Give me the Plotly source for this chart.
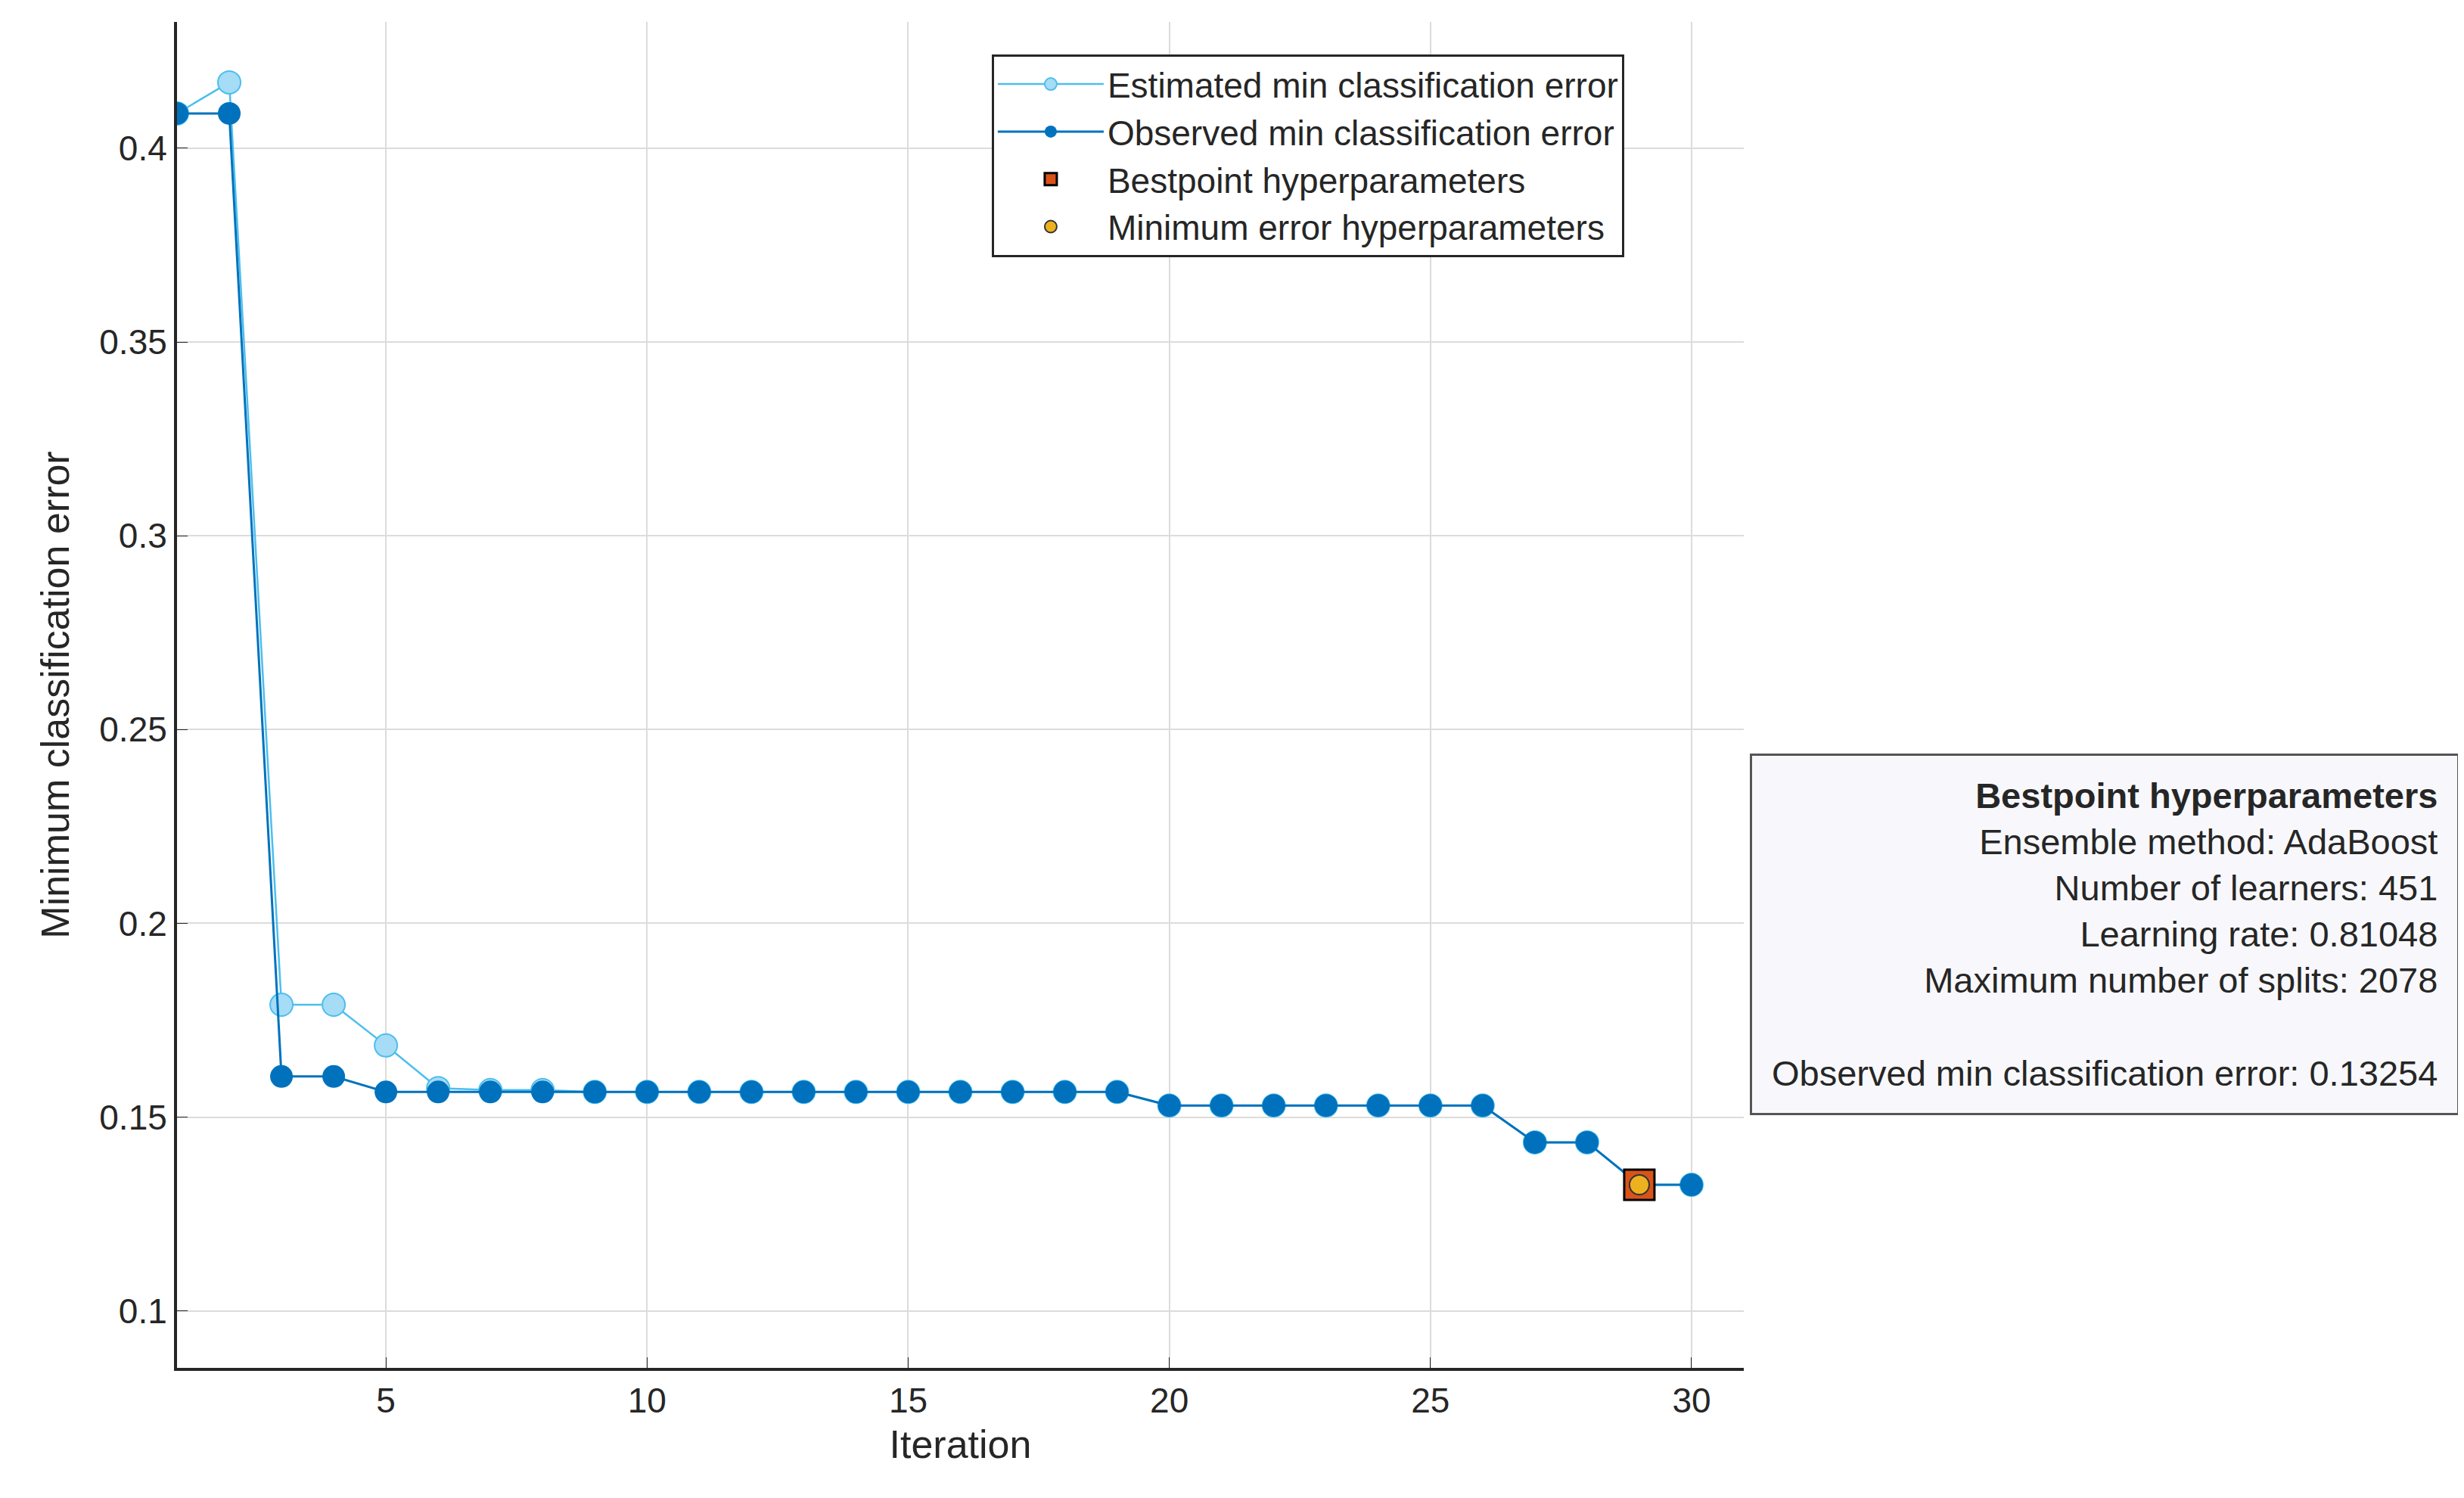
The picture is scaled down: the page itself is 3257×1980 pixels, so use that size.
import plotly.graph_objects as go

iteration = list(range(1, 31))
observed = [0.409, 0.409, 0.1605, 0.1605, 0.1565, 0.1565, 0.1565, 0.1565, 0.1565, 0.1565,
            0.1565, 0.1565, 0.1565, 0.1565, 0.1565, 0.1565, 0.1565, 0.1565, 0.1565, 0.153,
            0.153, 0.153, 0.153, 0.153, 0.153, 0.153, 0.1435, 0.1435, 0.13254, 0.13254]
estimated = [0.409, 0.417, 0.179, 0.179, 0.1685, 0.1575, 0.157, 0.157, 0.1565, 0.1565,
             0.1565, 0.1565, 0.1565, 0.1565, 0.1565, 0.1565, 0.1565, 0.1565, 0.1565, 0.153,
             0.153, 0.153, 0.153, 0.153, 0.153, 0.153, 0.1435, 0.1435, 0.13254, 0.13254]
best_iter, best_err = 29, 0.13254
x_ticks = [5, 10, 15, 20, 25, 30]
y_ticks = [0.1, 0.15, 0.2, 0.25, 0.3, 0.35, 0.4]

FONT = "Liberation Sans"
fig = go.Figure()
fig.add_trace(go.Scatter(
    x=iteration, y=estimated, mode="lines+markers", name="Estimated min classification error",
    line=dict(color="#4DBEEE", width=2.5),
    marker=dict(size=30, color="#A6DCF5", line=dict(color="#4DBEEE", width=2)),
))
fig.add_trace(go.Scatter(
    x=iteration, y=observed, mode="lines+markers", name="Observed min classification error",
    line=dict(color="#0072BD", width=3),
    marker=dict(size=30, color="#0072BD"),
))
fig.add_trace(go.Scatter(
    x=[best_iter], y=[best_err], mode="markers", name="Bestpoint hyperparameters",
    marker=dict(symbol="square", size=40, color="#D95319", line=dict(color="black", width=3)),
))
fig.add_trace(go.Scatter(
    x=[best_iter], y=[best_err], mode="markers", name="Minimum error hyperparameters",
    marker=dict(size=26, color="#EDB120", line=dict(color="#333333", width=2)),
))

fig.add_annotation(
    xref="paper", yref="paper", x=1.457, y=0.322, xanchor="right", yanchor="middle",
    align="right", showarrow=False,
    text=("<b>Bestpoint hyperparameters</b><br>Ensemble method: AdaBoost<br>"
          "Number of learners: 451<br>Learning rate: 0.81048<br>"
          "Maximum number of splits: 2078<br><br>Observed min classification error: 0.13254"),
    font=dict(family=FONT, size=47, color="#262626"),
    bgcolor="#f8f8fc", bordercolor="#555555", borderwidth=3, borderpad=26,
)

axis_common = dict(showgrid=True, gridcolor="#dcdcdc", gridwidth=2, showline=True,
                   linecolor="#262626", linewidth=4, ticks="inside", ticklen=14,
                   tickcolor="#262626", zeroline=False, mirror=False,
                   tickfont=dict(family=FONT, size=46, color="#262626"))
fig.update_xaxes(range=[1, 31], tickvals=x_ticks, title=dict(text="Iteration",
                 font=dict(family=FONT, size=52, color="#262626")), **axis_common)
fig.update_yaxes(range=[0.0853, 0.4326], tickvals=y_ticks, title=dict(text="Minimum classification error",
                 font=dict(family=FONT, size=52, color="#262626"), standoff=24), **axis_common)

fig.update_layout(
    width=3257, height=1980,
    plot_bgcolor="white", paper_bgcolor="white",
    margin=dict(l=226, r=960, t=21, b=180),
    showlegend=True,
    legend=dict(x=0.52, y=0.976, xanchor="left", yanchor="top",
                bgcolor="white", bordercolor="#262626", borderwidth=3,
                font=dict(family=FONT, size=46, color="#262626"), itemwidth=140),
)
fig.write_html("out.html")
